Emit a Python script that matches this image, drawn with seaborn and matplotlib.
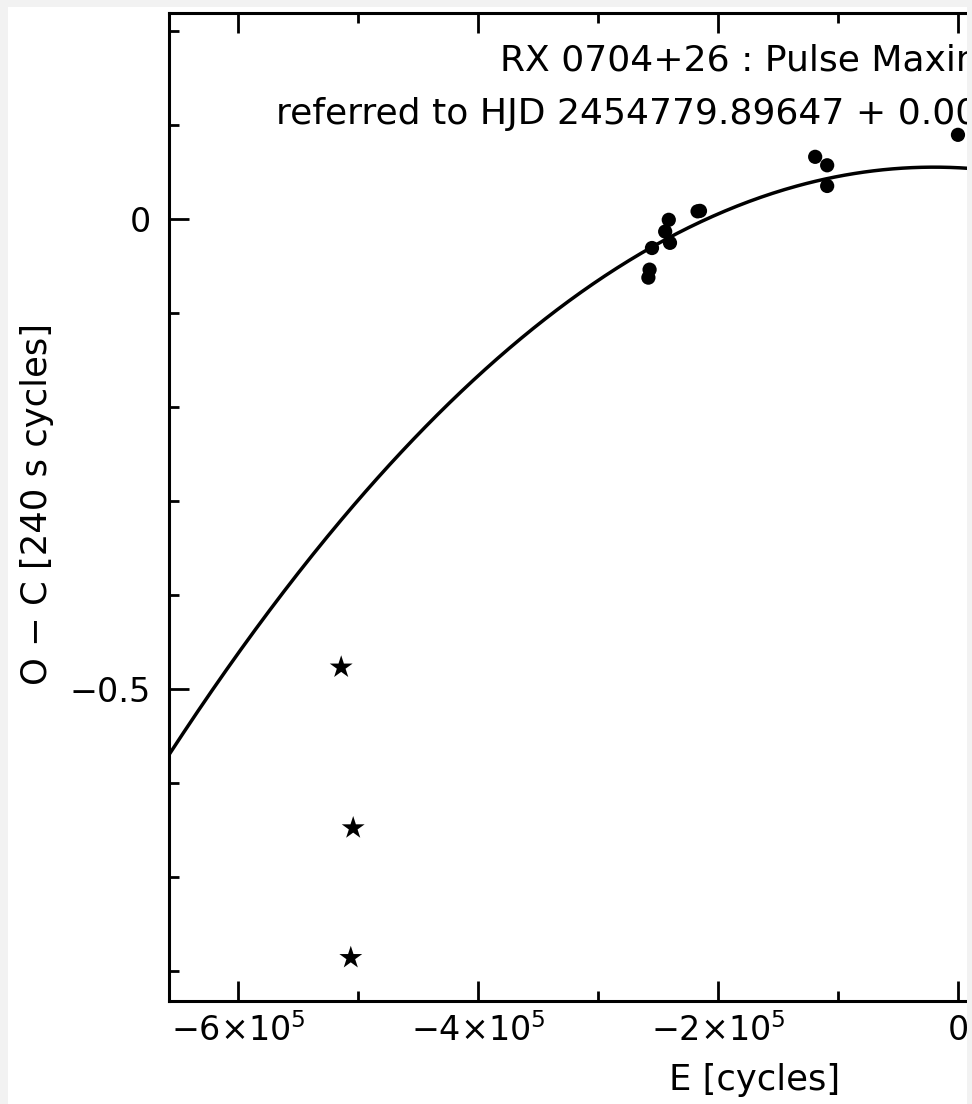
import numpy as np
import pandas as pd
import matplotlib
matplotlib.use("Agg")
import matplotlib.pyplot as plt
from matplotlib.patches import Rectangle
from matplotlib.ticker import MultipleLocator
import seaborn as sns

# ---- data ----
dot_E = [-2.58e5, -2.57e5, -2.55e5, -2.44e5, -2.41e5, -2.40e5,
         -2.17e5, -2.15e5, -1.19e5, -1.09e5, -1.09e5, 0.0]
dot_OC = [-0.0625, -0.054, -0.031, -0.0135, -0.001, -0.0255,
          0.008, 0.0085, 0.066, 0.057, 0.035, 0.0894]
star_E = [-5.14e5, -5.04e5, -5.06e5]
star_OC = [-0.477, -0.648, -0.786]
# quadratic ephemeris fit: O-C = a + b*E + c*E^2
fit_a, fit_b, fit_c = 0.0544, -6.15e-8, -1.538e-12

xtick_vals = [-6e5, -4e5, -2e5, 0]
xtick_labels = [r"$-6{\times}10^{5}$", r"$-4{\times}10^{5}$", r"$-2{\times}10^{5}$", "0"]
ytick_vals = [0.0, -0.5]
ytick_labels = ["0", "\u22120.5"]
title1 = "RX 0704+26 : Pulse Maxima"
title2 = "referred to HJD 2454779.89647 + 0.0027777 E"
xlab = "E [cycles]"
ylab = "O \u2212 C [240 s cycles]"

sns.set_theme(style="ticks")
plt.rcParams["font.family"] = ["DejaVu Sans"]
plt.rcParams["mathtext.fontset"] = "dejavusans"
FS = 24
FS_LAB = 25.5
FS_TXT = 26

W, H = 972, 1104
fig = plt.figure(figsize=(W / 100, H / 100), dpi=100, facecolor="white")
ax = fig.add_axes([169 / W, (H - 1001) / H, 956 / W, 988 / H])
ax.set_facecolor("white")

xlim = (-6.575e5, 1.392e5)
ylim = (-0.832, 0.219)

fitE = np.linspace(xlim[0], xlim[1], 400)
fit_df = pd.DataFrame({"E": fitE, "OC": fit_a + fit_b * fitE + fit_c * fitE ** 2})
sns.lineplot(data=fit_df, x="E", y="OC", ax=ax, color="black", linewidth=2.5, sort=False)

dots = pd.DataFrame({"E": dot_E, "OC": dot_OC})
sns.scatterplot(data=dots, x="E", y="OC", ax=ax, color="black", s=105,
                marker="o", edgecolor="none", zorder=3)
stars = pd.DataFrame({"E": star_E, "OC": star_OC})
sns.scatterplot(data=stars, x="E", y="OC", ax=ax, color="black", s=300,
                marker="*", edgecolor="none", zorder=3)

ax.set_xlim(*xlim)
ax.set_ylim(*ylim)
ax.set_xticks(xtick_vals)
ax.set_xticklabels(xtick_labels)
ax.set_yticks(ytick_vals)
ax.set_yticklabels(ytick_labels)
ax.xaxis.set_minor_locator(MultipleLocator(1e5))
ax.yaxis.set_minor_locator(MultipleLocator(0.1))
ax.tick_params(which="both", direction="in", top=True, right=True,
               color="black", width=2.0, labelsize=FS, labelcolor="black")
ax.tick_params(which="major", length=14.4)
ax.tick_params(which="minor", length=7.2)
ax.tick_params(axis="y", which="major", pad=13)
ax.tick_params(axis="x", which="major", pad=9)
for sp in ax.spines.values():
    sp.set_linewidth(2.2)
    sp.set_color("black")

ax.set_xlabel(xlab, fontsize=FS_LAB, color="black")
ax.set_ylabel(ylab, fontsize=FS_LAB, color="black")
ax.xaxis.set_label_coords(0.612, -0.0625)
ax.yaxis.set_label_coords(-0.120, 0.503)

ax.text(-3.817e5, 0.1574, title1, fontsize=FS_TXT, color="black", ha="left", va="baseline")
ax.text(-5.683e5, 0.101, title2, fontsize=FS_TXT, color="black", ha="left", va="baseline")

# light grey frame of the scanned picture (drawn on top)
grey = "#f2f2f2"
for (x0, y0, w, h) in [(0, 0, 8, H), (0, H - 7, W, 7), (967, 0, 5, H)]:
    fig.add_artist(Rectangle((x0 / W, y0 / H), w / W, h / H, transform=fig.transFigure,
                             facecolor=grey, edgecolor="none", zorder=20))

fig.savefig("out.png", dpi=100)
